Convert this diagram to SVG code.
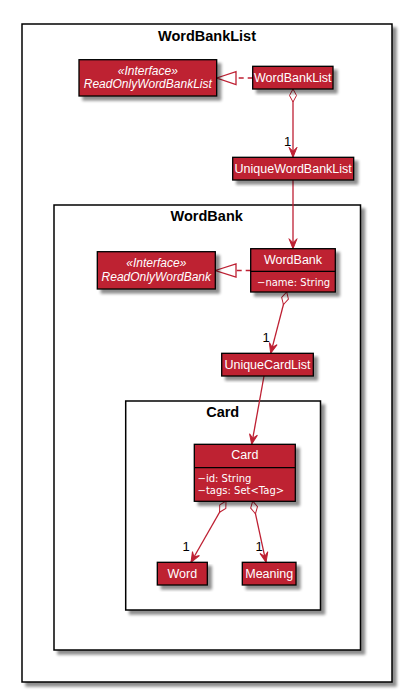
<svg xmlns="http://www.w3.org/2000/svg" width="402" height="692" viewBox="0 0 402 692">
<defs>
<filter id="sh" x="-10%" y="-10%" width="130%" height="140%">
<feGaussianBlur in="SourceAlpha" stdDeviation="1.6"/>
<feOffset dx="4" dy="4"/>
<feComponentTransfer><feFuncA type="linear" slope="0.45"/></feComponentTransfer>
<feMerge><feMergeNode/><feMergeNode in="SourceGraphic"/></feMerge>
</filter>
<marker id="arr" viewBox="-11 -5 12 10" markerWidth="12" markerHeight="10" refX="0" refY="0" orient="auto" markerUnits="userSpaceOnUse">
<path d="M0,0 L-10,-4 L-6,0 L-10,4 Z" fill="#BE2033" stroke="#BE2033" stroke-width="1"/>
</marker>
<marker id="dia" viewBox="-1 -5 16 10" markerWidth="16" markerHeight="10" refX="0" refY="0" orient="auto" markerUnits="userSpaceOnUse">
<path d="M0,0 L6.5,-3.5 L13,0 L6.5,3.5 Z" fill="#ffffff" stroke="#BE2033" stroke-width="1"/>
</marker>
</defs>
<style>
.pkg{fill:#ffffff;stroke:#000;stroke-width:1.5;filter:url(#sh)}
.cls{fill:#BE2033;stroke:#000;stroke-width:1.3;filter:url(#sh)}
.sep{stroke:#000;stroke-width:1.2}
.ptitle{font-family:"Liberation Sans",Arial,sans-serif;font-weight:bold;font-size:14.5px;fill:#000;text-anchor:middle}
.name{font-family:"Liberation Sans",Arial,sans-serif;font-size:12.5px;fill:#fff;text-anchor:middle}
.iname{font-family:"Liberation Sans",Arial,sans-serif;font-size:12px;font-style:italic;fill:#fff;text-anchor:middle}
.attr{font-family:"DejaVu Sans",sans-serif;font-size:10px;fill:#fff}
.edge{fill:none;stroke:#BE2033;stroke-width:1.3}
.dash{fill:none;stroke:#BE2033;stroke-width:1.3;stroke-dasharray:5,4}
.tri{fill:#fff;stroke:#BE2033;stroke-width:1.3}
.lbl{font-family:"Liberation Sans",Arial,sans-serif;font-size:13px;fill:#000}
</style>
<rect width="402" height="692" fill="#ffffff"/>

<g id="pkg-WordBankList">
<rect class="pkg" x="22" y="24" width="370" height="658"/>
<text class="ptitle" x="207" y="40.5">WordBankList</text>
</g>
<g id="pkg-WordBank">
<rect class="pkg" x="54" y="205" width="306.5" height="445"/>
<text class="ptitle" x="206.7" y="220.5">WordBank</text>
</g>
<g id="pkg-Card">
<rect class="pkg" x="125.7" y="401" width="194.8" height="209"/>
<text class="ptitle" x="222.7" y="416.5">Card</text>
</g>

<g id="connectors">
<line class="dash" x1="252.7" y1="78" x2="236" y2="78"/>
<polygon class="tri" points="216.7,78 236,71.7 236,84.7"/>
<line class="dash" x1="250.7" y1="270.5" x2="236" y2="270.5"/>
<polygon class="tri" points="215.3,270.5 236,264 236,277"/>
<line class="edge" x1="293" y1="89" x2="293" y2="157.3" marker-start="url(#dia)" marker-end="url(#arr)"/>
<text class="lbl" x="284" y="146">1</text>
<line class="edge" x1="293" y1="180" x2="293" y2="248.7" marker-end="url(#arr)"/>
<line class="edge" x1="286.7" y1="292" x2="270.7" y2="353.3" marker-start="url(#dia)" marker-end="url(#arr)"/>
<text class="lbl" x="262.5" y="341.5">1</text>
<line class="edge" x1="264" y1="376" x2="251.7" y2="444.3" marker-end="url(#arr)"/>
<line class="edge" x1="226" y1="501" x2="191" y2="562.3" marker-start="url(#dia)" marker-end="url(#arr)"/>
<text class="lbl" x="182.5" y="551">1</text>
<line class="edge" x1="252.7" y1="501" x2="266" y2="562.3" marker-start="url(#dia)" marker-end="url(#arr)"/>
<text class="lbl" x="255.5" y="551">1</text>
</g>

<g id="ReadOnlyWordBankList">
<rect class="cls" x="79" y="59.7" width="137.7" height="36.3"/>
<text class="iname" x="147.8" y="75">«Interface»</text>
<text class="iname" x="147.8" y="88">ReadOnlyWordBankList</text>
</g>
<g id="WordBankList">
<rect class="cls" x="252.7" y="66.3" width="80.3" height="22.7"/>
<text class="name" x="292.8" y="82">WordBankList</text>
</g>
<g id="UniqueWordBankList">
<rect class="cls" x="232.7" y="157.3" width="121" height="22.7"/>
<text class="name" x="293.2" y="173">UniqueWordBankList</text>
</g>
<g id="ReadOnlyWordBank">
<rect class="cls" x="97.3" y="251.7" width="118" height="37.3"/>
<text class="iname" x="156.3" y="267.3">«Interface»</text>
<text class="iname" x="156.3" y="281.3">ReadOnlyWordBank</text>
</g>
<g id="WordBank">
<rect class="cls" x="250.7" y="248.7" width="84.6" height="43.3"/>
<line class="sep" x1="250.7" y1="271.3" x2="335.3" y2="271.3"/>
<text class="name" x="293" y="263.5">WordBank</text>
<text class="attr" x="257" y="286">−name: String</text>
</g>
<g id="UniqueCardList">
<rect class="cls" x="221.7" y="353.3" width="91.6" height="22.7"/>
<text class="name" x="267.5" y="369">UniqueCardList</text>
</g>
<g id="Card">
<rect class="cls" x="194.3" y="444.3" width="101" height="57"/>
<line class="sep" x1="194.3" y1="467.7" x2="295.3" y2="467.7"/>
<text class="name" x="244.8" y="459.3">Card</text>
<text class="attr" x="197.5" y="482.3">−id: String</text>
<text class="attr" x="197.5" y="494">−tags: Set&lt;Tag&gt;</text>
</g>
<g id="Word">
<rect class="cls" x="157.3" y="562.3" width="50" height="22.7"/>
<text class="name" x="182.3" y="578">Word</text>
</g>
<g id="Meaning">
<rect class="cls" x="242.3" y="562.3" width="53.7" height="22.7"/>
<text class="name" x="269.2" y="578">Meaning</text>
</g>
</svg>
